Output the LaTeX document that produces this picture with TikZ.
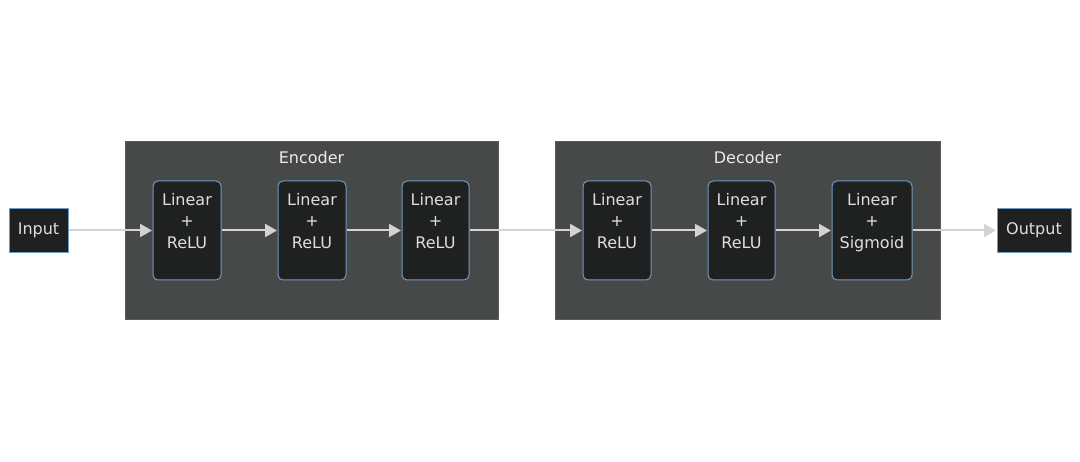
\documentclass[tikz,border=0pt]{standalone}
\usepackage{fontspec}
\setmainfont{DejaVu Sans}
\usetikzlibrary{arrows.meta}
\definecolor{clfill}{HTML}{474949}
\definecolor{clborder}{HTML}{5A5C5C}
\definecolor{nfill}{HTML}{1F2020}
\definecolor{nborder}{HTML}{6F9BC4}
\definecolor{txt}{HTML}{DEDEDE}
\definecolor{edge}{HTML}{D3D3D3}
\tikzset{
  cluster/.style={draw=clborder, fill=clfill, line width=1pt},
  layerbox/.style={draw=nborder, fill=nfill, line width=1pt, rounded corners=5pt, inner sep=0pt},
  iobox/.style={draw=nborder, fill=nfill, line width=1pt, inner sep=0pt, text=txt, font=\fontsize{16}{20}\selectfont},
  layertext/.style={text=txt, align=center, font=\fontsize{16}{21.5}\selectfont, inner sep=0pt},
  cltitle/.style={text=white!92!black, font=\fontsize{16}{20}\selectfont, inner sep=0pt},
  flow/.style={draw=edge, line width=2pt, -{Triangle[length=12pt,width=13pt]}, shorten >=0.5pt}
}
\begin{document}
\begin{tikzpicture}[x=1pt,y=-1pt]
\useasboundingbox[fill=white] (0,0) rectangle (1080,462);
% clusters
\draw[cluster] (125,142) rectangle (498,320);
\draw[cluster] (555,142) rectangle (940,320);
\node[cltitle] (enct) at (311.5,158) {Encoder};
\node[cltitle] (dect) at (747.5,158) {Decoder};
% io nodes
\node[iobox, minimum width=59pt, minimum height=44pt] (in) at (38.5,230.5) {Input};
\node[iobox, minimum width=74pt, minimum height=44pt] (out) at (1034,230.5) {Output};
% layer boxes
\node[layerbox, minimum width=68pt, minimum height=99pt] (e1) at (187,230.5) {};
\node[layerbox, minimum width=68pt, minimum height=99pt] (e2) at (312,230.5) {};
\node[layerbox, minimum width=67pt, minimum height=99pt] (e3) at (435.5,230.5) {};
\node[layerbox, minimum width=68pt, minimum height=99pt] (d1) at (617,230.5) {};
\node[layerbox, minimum width=67pt, minimum height=99pt] (d2) at (741.5,230.5) {};
\node[layerbox, minimum width=80pt, minimum height=99pt] (d3) at (872,230.5) {};
% texts
\node[layertext] (e1t) at ([yshift=8pt]e1.center) {Linear\\+\\ReLU\vphantom{g}};
\node[layertext] (e2t) at ([yshift=8pt]e2.center) {Linear\\+\\ReLU\vphantom{g}};
\node[layertext] (e3t) at ([yshift=8pt]e3.center) {Linear\\+\\ReLU\vphantom{g}};
\node[layertext] (d1t) at ([yshift=8pt]d1.center) {Linear\\+\\ReLU\vphantom{g}};
\node[layertext] (d2t) at ([yshift=8pt]d2.center) {Linear\\+\\ReLU\vphantom{g}};
\node[layertext] (d3t) at ([yshift=8pt]d3.center) {Linear\\+\\Sigmoid};
% edges
\draw[flow] (in) -- (e1);
\draw[flow] (e1) -- (e2);
\draw[flow] (e2) -- (e3);
\draw[flow] (e3) -- (d1);
\draw[flow] (d1) -- (d2);
\draw[flow] (d2) -- (d3);
\draw[flow] (d3) -- (out);
\end{tikzpicture}
\end{document}
